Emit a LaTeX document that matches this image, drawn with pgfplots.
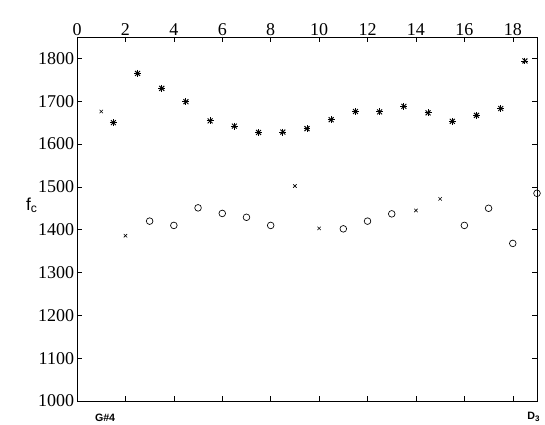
\documentclass[border=0pt]{standalone}
\usepackage{pgfplots}
\pgfplotsset{compat=1.18}
\usepackage{fontspec}
\setmainfont{Liberation Serif}
\setsansfont{Liberation Sans}

% spectral centroid per note, three playing styles
\pgfplotstableread{
x    y
1.5  1650
2.5  1765
3.5  1730
4.5  1699
5.5  1654
6.5  1642
7.5  1627
8.5  1628
9.5  1636
10.5 1657
11.5 1676
12.5 1675
13.5 1688
14.5 1673
15.5 1653
16.5 1667
17.5 1683
18.5 1794
}\stars
\pgfplotstableread{
x  y
1  1676
2  1386
9  1502
10 1403
14 1445
15 1472
}\crosses
\pgfplotstableread{
x  y
3  1420
4  1410
5  1451
6  1438
7  1429
8  1410
11 1402
12 1420
13 1437
16 1410
17 1450
18 1368
19 1485
}\circles

\begin{document}
\begin{tikzpicture}
\begin{axis}[
    scale only axis,
    width=345pt, height=273pt,
    xmin=0, xmax=19,
    ymin=1000, ymax=1850,
    xtick={0,2,...,18},
    ytick={1000,1100,...,1800},
    xtick pos=both, ytick pos=both,
    xticklabel pos=upper,
    yticklabel pos=lower,
    tick align=inside,
    major tick length=4pt,
    tick style={black, line width=0.4pt},
    axis line style={black, line width=0.6pt},
    tick label style={font=\rmfamily\fontsize{13.5}{15}\selectfont},
    xticklabel style={inner sep=1pt},
    yticklabel style={inner sep=2pt},
    /pgf/number format/assume math mode=true,
    /pgf/number format/1000 sep={},
    clip=false,
]
\addplot[only marks, mark=+, mark size=2.6pt, line width=0.7pt] table[x=x,y=y] {\stars};
\addplot[only marks, mark=x, mark size=2.6pt, line width=0.7pt] table[x=x,y=y] {\stars};
\addplot[only marks, mark=x, mark size=1.8pt, line width=0.45pt] table[x=x,y=y] {\crosses};
\addplot[only marks, mark=o, mark size=2.5pt, line width=0.5pt] table[x=x,y=y] {\circles};

\node[anchor=east, font=\sffamily\fontsize{13}{15}\selectfont]
    at (axis cs:0,1457) [xshift=-26pt] {f\textsubscript{c}};
\node[anchor=north, font=\sffamily\bfseries\fontsize{8}{10}\selectfont]
    at (axis cs:1.16,1000) [yshift=-6pt] {G\#4};
\node[anchor=north, font=\sffamily\bfseries\fontsize{8}{10}\selectfont]
    at (axis cs:18.87,1000) [yshift=-5pt] {D\textsubscript{3}};
\end{axis}
\pgfresetboundingbox
\path ([shift={(-57.75pt,-18pt)}]current axis.south west)
    rectangle ([shift={(6pt,27.75pt)}]current axis.north east);
\end{tikzpicture}
\end{document}
